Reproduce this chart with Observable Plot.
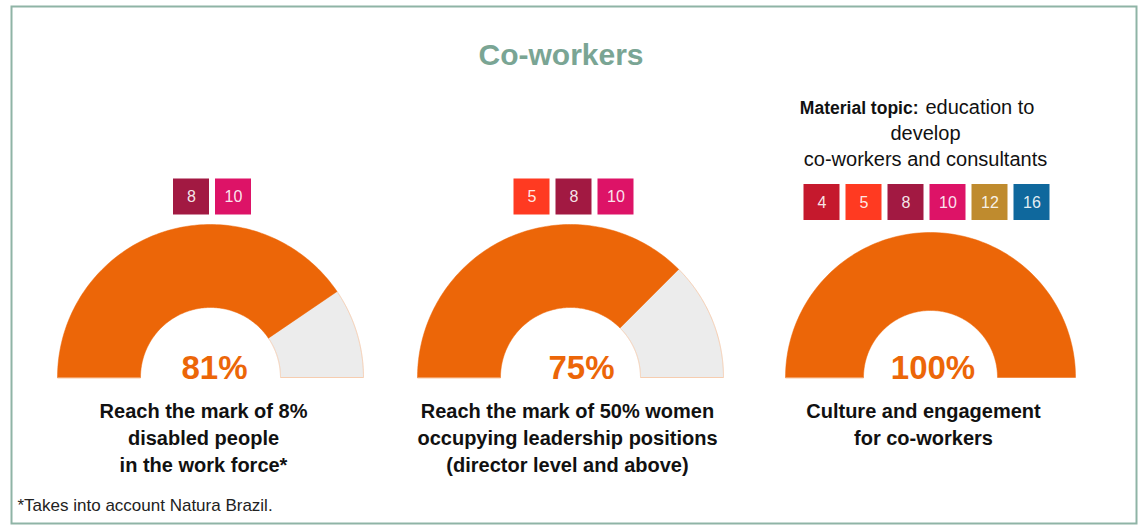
<!DOCTYPE html>
<html>
<head>
<meta charset="utf-8">
<script src="https://cdn.jsdelivr.net/npm/d3@7"></script>
<script src="https://cdn.jsdelivr.net/npm/@observablehq/plot@0.6"></script>
<style>
  html, body { margin: 0; padding: 0; background: #ffffff; }
  #chart svg { display: block; }
</style>
</head>
<body>
<div id="chart"></div>
<script>
// ---------------- DATA ----------------
const titleText = "Co-workers";
const gaugeIds = ["disabled", "women", "culture"];
const percentValues = [81, 75, 100];
const percentLabels = ["81%", "75%", "100%"];
const goalLabels = [
  "Reach the mark of 8%\ndisabled people\nin the work force*",
  "Reach the mark of 50% women\noccupying leadership positions\n(director level and above)",
  "Culture and engagement\nfor co-workers"
];
const sdgGoals = [[8, 10], [5, 8, 10], [4, 5, 8, 10, 12, 16]];
const sdgDomain = [4, 5, 8, 10, 12, 16];
const materialBold = "Material topic:";
const materialRest = "education to";
const materialLines = "develop\nco-workers and consultants";
const footnoteText = "*Takes into account Natura Brazil.";

// ---------------- STYLE / LAYOUT ----------------
const sdgRange = ["#c5192d", "#ff3a21", "#a21942", "#dd1367", "#bf8b2e", "#0f689d"];
const ORANGE = "#ec6608", GRAY = "#ececec", SAGE = "#7aa594", BORDER = "#8fb4a6";
const FONT = "Liberation Sans, Arial, Helvetica, sans-serif";
const W = 1141, H = 526;
const U = 360;                 // pixels per unit (same on x and y)
const BASE = 377;              // pixel row of the gauge baseline
const px = p => p / U;
// y (in units) of a "top"-anchored text whose first baseline should sit at basePx
const yAtBaseline = (basePx, fs, lh = 1) => (BASE - (basePx - 0.71 * lh * fs)) / U;
const layout = {
  rOuter: [153, 153, 145], rInner: [70, 70, 67],
  boxShift: [2, 3.5, -3.5], boxBottom: [214.5, 214.5, 220],
  pctDx: [4, 11, 2.5], labelDx: [-7, -3, -7],
  boxSize: 36, boxStep: 42
};

// ---------------- DERIVED TABLES ----------------
const gauges = gaugeIds.map((id, i) => ({ id, i, value: percentValues[i], pct: percentLabels[i], label: goalLabels[i] }));

function arc(g, a0, a1, part) {
  const n = 120, pts = [];
  const ro = px(layout.rOuter[g.i]), ri = px(layout.rInner[g.i]);
  for (let k = 0; k <= n; k++) { const a = a0 + (a1 - a0) * k / n; pts.push({ id: g.id + part, part, x: g.i + ro * Math.cos(a), y: ro * Math.sin(a) }); }
  for (let k = n; k >= 0; k--) { const a = a0 + (a1 - a0) * k / n; pts.push({ id: g.id + part, part, x: g.i + ri * Math.cos(a), y: ri * Math.sin(a) }); }
  return pts;
}
const filled = gauges.flatMap(g => arc(g, Math.PI, Math.PI - Math.PI * g.value / 100, "done"));
const rest = gauges.filter(g => g.value < 100).flatMap(g => arc(g, Math.PI - Math.PI * g.value / 100, 0, "rest"));

const boxes = gauges.flatMap(g => sdgGoals[g.i].map((goal, k, arr) => {
  const c = g.i + px((k - (arr.length - 1) / 2) * layout.boxStep + layout.boxShift[g.i]);
  const bottom = (BASE - layout.boxBottom[g.i]) / U;
  return { goal, x1: c - px(layout.boxSize / 2), x2: c + px(layout.boxSize / 2), y1: bottom, y2: bottom + px(layout.boxSize), xc: c, yc: bottom + px(layout.boxSize / 2) };
}));

// ---------------- PLOT ----------------
const chart = Plot.plot({
  width: W, height: H,
  marginTop: 0, marginRight: 0, marginBottom: 0, marginLeft: 0,
  style: { fontFamily: FONT, background: "#ffffff", overflow: "visible" },
  x: { domain: [-0.5, 2.5], range: [30, 1110], axis: null },
  y: { domain: [0, 1], range: [BASE, BASE - U], axis: null },
  color: { domain: sdgDomain, range: sdgRange },
  marks: [
    Plot.frame({ stroke: BORDER, strokeWidth: 2, insetLeft: 11, insetTop: 6, insetRight: 5, insetBottom: 3 }),
    Plot.line(rest, { x: "x", y: "y", z: "id", fill: GRAY, stroke: "#f6cdb0", strokeWidth: 1, curve: "linear-closed" }),
    Plot.line(filled, { x: "x", y: "y", z: "id", fill: ORANGE, stroke: ORANGE, strokeWidth: 0.5, curve: "linear-closed" }),
    Plot.text(gauges, { x: d => d.i + px(layout.pctDx[d.i]), y: yAtBaseline(378, 33), text: "pct", lineAnchor: "top",
      fontSize: 33, fontWeight: "bold", fill: ORANGE }),
    Plot.text(gauges, { x: d => d.i + px(layout.labelDx[d.i]), y: yAtBaseline(418, 20, 1.35), text: "label", lineAnchor: "top",
      lineHeight: 1.35, fontSize: 20, fontWeight: "bold", fill: "#111111" }),
    Plot.rect(boxes, { x1: "x1", x2: "x2", y1: "y1", y2: "y2", fill: "goal" }),
    Plot.text(boxes, { x: "xc", y: "yc", text: d => String(d.goal), fontSize: 16, fill: "#ffffff", fillOpacity: 0.9 }),
    Plot.text([materialBold], { x: 2 + px(-12), y: yAtBaseline(113, 17.5), text: d => d, lineAnchor: "top", textAnchor: "end",
      fontSize: 17.5, fontWeight: "bold", fill: "#111111" }),
    Plot.text([materialRest], { x: 2 + px(-5), y: yAtBaseline(113, 20), text: d => d, lineAnchor: "top", textAnchor: "start",
      fontSize: 20, fill: "#111111" }),
    Plot.text([materialLines], { x: 2 + px(-5), y: yAtBaseline(139.5, 20, 1.32), text: d => d, lineAnchor: "top",
      lineHeight: 1.32, fontSize: 20, fill: "#111111" }),
    Plot.text([titleText], { frameAnchor: "top", dx: -10, dy: 64 - 0.71 * 30, text: d => d, lineAnchor: "top",
      fontSize: 30, fontWeight: "bold", fill: SAGE }),
    Plot.text([footnoteText], { frameAnchor: "top-left", dx: 17, dy: 510 - 0.71 * 17, text: d => d, lineAnchor: "top",
      textAnchor: "start", fontSize: 17, fill: "#222222" })
  ]
});
document.getElementById("chart").appendChild(chart);
</script>
</body>
</html>
